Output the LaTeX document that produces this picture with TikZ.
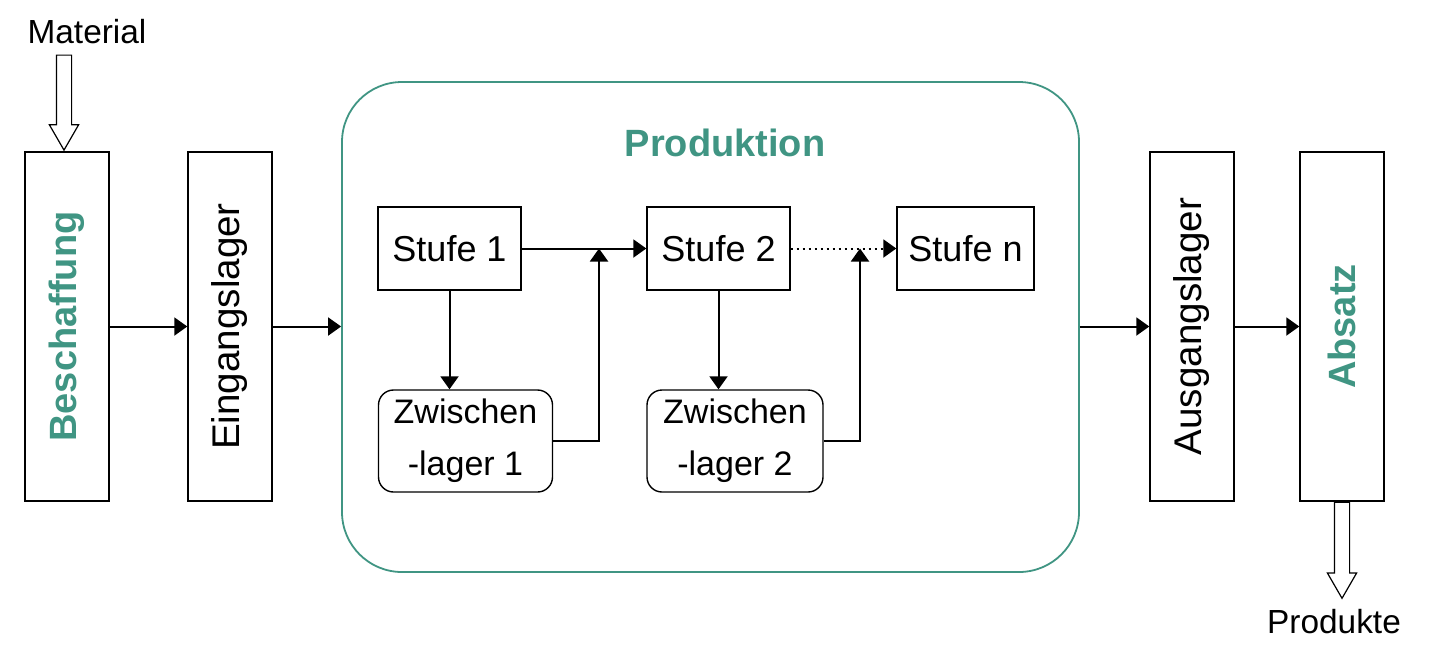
\documentclass[tikz,border=0pt]{standalone}
\usepackage{fontspec}
\setmainfont{Liberation Sans}
\usetikzlibrary{arrows.meta,shapes.arrows}
\definecolor{tealgreen}{RGB}{64,149,131}

\begin{document}
\begin{tikzpicture}[x=0.5pt, y=-0.5pt, line width=1pt,
  font=\fontsize{17}{26}\selectfont,
  box/.style={draw, line width=0.7pt, minimum width=42pt, minimum height=174.5pt, inner sep=0},
  stufebox/.style={draw, line width=0.7pt, minimum width=71.5pt, minimum height=41.5pt, inner sep=0,
    font=\fontsize{18}{22}\selectfont},
  lagerbox/.style={draw, line width=0.7pt, rounded corners=7.5pt, minimum height=51pt, align=center, inner sep=0},
  blockarrow/.style={draw, line width=0.6pt, single arrow, single arrow tip angle=60,
    single arrow head extend=3.5pt, inner xsep=0, inner ysep=3.5pt, rotate=-90},
  pfeil/.style={-{Triangle[length=6.5pt,width=9pt]}},
  lagertext/.style={rotate=90, font=\fontsize{19.3}{22}\selectfont},
  titel/.style={text=tealgreen, font=\fontsize{19}{22}\selectfont\bfseries}]
\useasboundingbox (0,0) rectangle (1434,660);

% Produktion
\node[draw=tealgreen, line width=0.9pt, rounded corners=30pt, minimum width=368.5pt, minimum height=245pt] (prod) at (710.5,327) {};
\node[titel] (prodtitel) at (725,143) {Produktion};

% Lager und Stufen
\node[box, label={[titel, rotate=90]center:Beschaffung}] (besch) at (67,326.5) {};
\node[box, label={[lagertext]center:Eingangslager}] (eing) at (230,326.5) {};
\node[box, label={[lagertext]center:Ausgangslager}] (ausg) at (1192,326.5) {};
\node[box, label={[titel, rotate=90]center:Absatz}] (absatz) at (1342,326.5) {};

\node[stufebox] (stufe1) at (449.5,248.5) {Stufe 1};
\node[stufebox] (stufe2) at (718.5,248.5) {Stufe 2};
\node[stufebox, minimum width=68.5pt] (stufen) at (965.5,248.5) {Stufe n};
\node[lagerbox, minimum width=87pt] (zw1) at (465.5,441) {Zwischen\\-lager 1};
\node[lagerbox, minimum width=88pt] (zw2) at (735,441) {Zwischen\\-lager 2};
\coordinate (j1) at (599,248.5);
\coordinate (j2) at (860,248.5);

% Material und Produkte
\node[blockarrow, minimum height=47.5pt, anchor=tip] (matpfeil) at ([xshift=-1.5pt]besch.north) {};
\node[font=\fontsize{16.7}{20}\selectfont] (material) at (87,32) {Material};
\node[blockarrow, minimum height=48pt, anchor=tail] (prodpfeil) at (absatz.south) {};
\node[font=\fontsize{16.7}{20}\selectfont] (produkte) at (1334,622) {Produkte};

% Pfeile
\draw[pfeil] (besch) -- (eing);
\draw[pfeil] (eing) -- (eing -| prod.west);
\draw[pfeil] (prod.east |- ausg) -- (ausg);
\draw[pfeil] (ausg) -- (absatz);
\draw[pfeil] (stufe1) -- (stufe2);
\draw[pfeil, dotted] (stufe2) -- (stufen);
\draw[pfeil] (stufe1.south) -- (stufe1.south |- zw1.north);
\draw[pfeil] (stufe2.south) -- (stufe2.south |- zw2.north);
\draw[pfeil] (zw1.east) -| (j1);
\draw[pfeil] (zw2.east) -| (j2);
\end{tikzpicture}
\end{document}
